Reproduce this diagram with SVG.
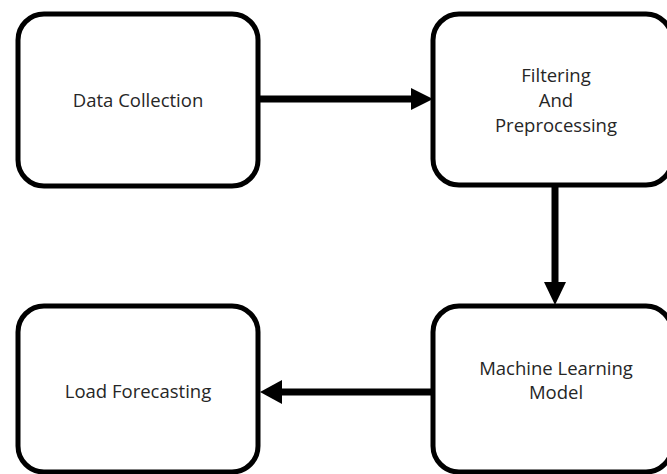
<svg xmlns="http://www.w3.org/2000/svg" width="667" height="474" viewBox="0 0 667 474">
<style>
.box{fill:#fff;stroke:#000;stroke-width:5}
.lbl{font-family:"Open Sans","Liberation Sans",sans-serif;font-size:18.5px;fill:#262626;text-anchor:middle}
.conn{stroke:#000;stroke-width:7;fill:none}
.head{fill:#000}
</style>
<rect width="667" height="474" fill="#fff"/>
<g id="data-collection">
<rect class="box" x="18" y="14" width="240" height="172" rx="26"/>
<text class="lbl" x="138" y="107">Data Collection</text>
</g>
<g id="filtering">
<rect class="box" x="433" y="14" width="239" height="171" rx="26"/>
<text class="lbl" x="556" y="82">Filtering</text>
<text class="lbl" x="556" y="107">And</text>
<text class="lbl" x="556" y="132">Preprocessing</text>
</g>
<g id="ml-model">
<rect class="box" x="433" y="306" width="239" height="166" rx="26"/>
<text class="lbl" x="556" y="375">Machine Learning</text>
<text class="lbl" x="556" y="399">Model</text>
</g>
<g id="load-forecasting">
<rect class="box" x="18" y="306" width="240" height="166" rx="26"/>
<text class="lbl" x="138" y="398">Load Forecasting</text>
</g>
<g id="connectors">
<line class="conn" x1="260" y1="99" x2="413" y2="99"/>
<polygon class="head" points="433,99 411,88 411,110"/>
<line class="conn" x1="555" y1="187" x2="555" y2="284"/>
<polygon class="head" points="555,305 544,282 566,282"/>
<line class="conn" x1="431" y1="392" x2="280" y2="392"/>
<polygon class="head" points="260,392 282,380 282,404"/>
</g>
</svg>
